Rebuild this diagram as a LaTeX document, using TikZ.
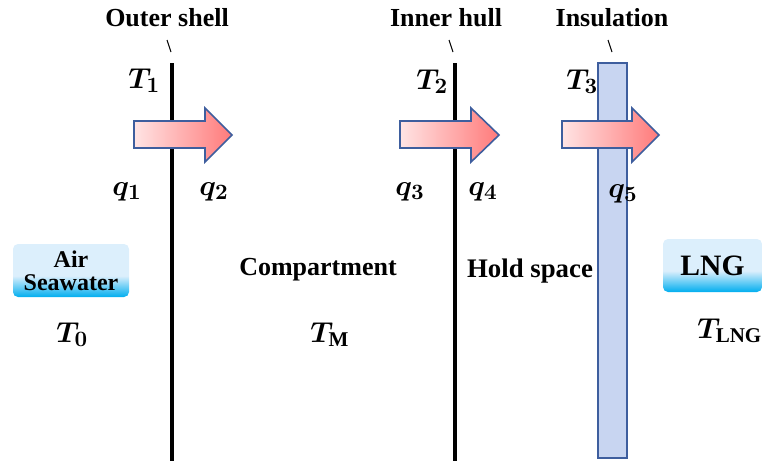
\documentclass[tikz,border=0pt]{standalone}
\usepackage{fontspec}
\setmainfont{Liberation Serif}
\usetikzlibrary{calc}
\definecolor{HSEdge}{HTML}{3E5E9E}
\definecolor{HSPinkLo}{HTML}{FFE4E4}
\definecolor{HSPinkHi}{HTML}{FF7A7A}
\definecolor{HSIce}{HTML}{C8D5F1}
\definecolor{HSSkyLo}{HTML}{DCEFFC}
\definecolor{HSSkyHi}{HTML}{00AEEF}
\pgfdeclareverticalshading{skybox}{100bp}{color(0bp)=(HSSkyHi); color(25bp)=(HSSkyHi); color(45bp)=(HSSkyLo); color(100bp)=(HSSkyLo)}

\begin{document}
\begin{tikzpicture}[x=0.5pt, y=-0.5pt, font=\bfseries,
  wall/.style={line width=2.3pt, draw=black},
  insul/.style={draw=HSEdge, fill=HSIce, line width=0.8pt},
  heat/.style={draw=HSEdge, line width=0.8pt, left color=HSPinkLo, right color=HSPinkHi},
  tag/.style={font=\bfseries\fontsize{13}{15}\selectfont, inner sep=0pt, anchor=base},
  sym/.style={font=\boldmath\fontsize{15}{17}\selectfont, inner sep=0pt, anchor=base west},
  medium/.style={shade, shading=skybox, rounded corners=2.5pt, minimum height=26.5pt, inner sep=0pt, align=center},
  lead/.style={line width=0.5pt}]
\useasboundingbox (0,0) rectangle (763,461);
% walls and insulation
\draw[wall] (172,63) -- (172,461);
\draw[wall] (455,63) -- (455,461);
\draw[insul] (598,63) rectangle (627,458);
% heat flow arrows
\foreach \s/\b/\t in {134/205/232, 400/471/499, 562/632/659}
  \draw[heat] (\s,121) -- (\b,121) -- (\b,108) -- (\t,135) -- (\b,162) -- (\b,148) -- (\s,148) -- cycle;
% layer names and leaders
\node[tag] (shell) at (167,26) {Outer shell};
\node[tag] (hull) at (446,26) {Inner hull};
\node[tag] (ins) at (612,26) {Insulation};
\foreach \nm/\a/\b in {shell/167/171, hull/449/453, ins/608/612} {
  \coordinate (\nm-a) at (\a,40); \coordinate (\nm-b) at (\b,52);
  \draw[lead] (\nm-a) -- (\nm-b);
}
\node[tag] (comp) at (318,275) {Compartment};
\node[tag, font=\bfseries\fontsize{13.4}{15}\selectfont] (hold) at (530,277) {Hold space};
% media
\node[medium, minimum width=58pt, font=\bfseries\fontsize{12}{11.5}\selectfont] (sea) at (71,270.5) {Air\\Seawater};
\node[medium, minimum width=49.5pt, font=\bfseries\fontsize{14.8}{16}\selectfont] (lng) at (712.5,265.5) {LNG};
% temperatures and heat fluxes
\node[sym] (t1) at (128,88) {$T_1$};
\node[sym] (t2) at (416,89) {$T_2$};
\node[sym] (t3) at (566,89) {$T_3$};
\node[sym] (t0) at (56,342) {$T_0$};
\node[sym] (tm) at (310,342) {$T_{\mathrm{M}}$};
\node[sym] (tlng) at (697,338) {$T_{\mathrm{LNG}}$};
\node[sym] (q1) at (112,195) {$q_1$};
\node[sym] (q2) at (199,195) {$q_2$};
\node[sym] (q3) at (395,195) {$q_3$};
\node[sym] (q4) at (468,195) {$q_4$};
\node[sym] (q5) at (608,197) {$q_5$};
\end{tikzpicture}
\end{document}
